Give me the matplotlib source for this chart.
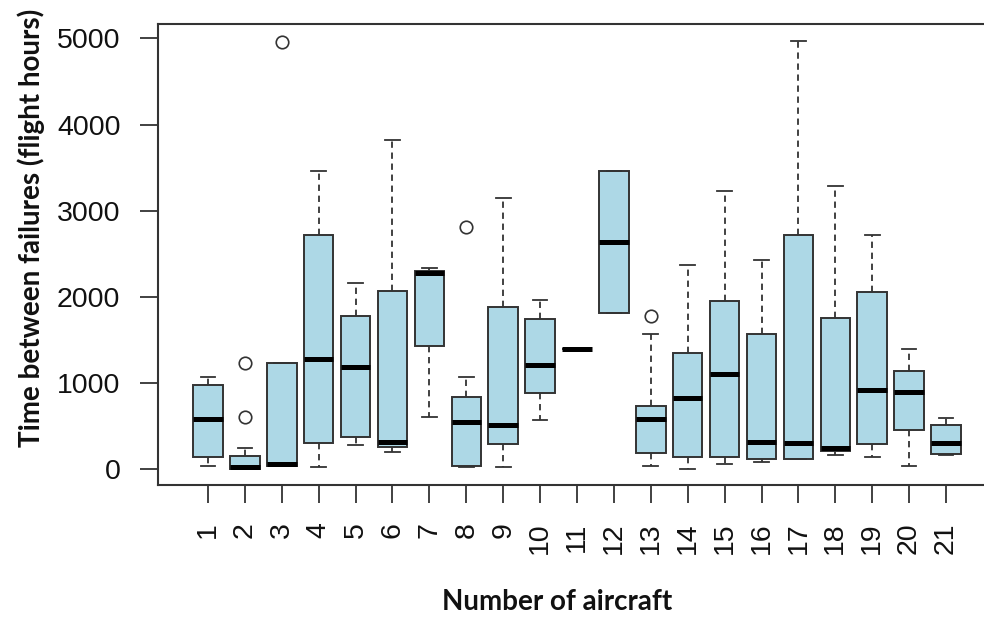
import matplotlib
matplotlib.use("Agg")
import matplotlib.pyplot as plt

# one entry per aircraft, values in flight hours
aircraft = [str(i) for i in range(1, 22)]
whisker_low = [43, 0, 39, 23, 286, 197, 603, 23, 23, 568, 1392, 1810, 43, 4, 58, 89, 124, 162, 147, 39, 166]
q1 = [147, 5, 39, 302, 375, 255, 1427, 39, 298, 882, 1392, 1810, 193, 147, 147, 124, 124, 213, 298, 456, 178]
median = [584, 30, 58, 1284, 1183, 321, 2274, 545, 510, 1214, 1392, 2641, 584, 828, 1110, 321, 302, 244, 916, 901, 302]
q3 = [978, 159, 1230, 2722, 1779, 2073, 2305, 843, 1883, 1740, 1392, 3461, 739, 1353, 1949, 1566, 2722, 1760, 2057, 1145, 514]
whisker_high = [1067, 247, 1230, 3461, 2162, 3817, 2336, 1071, 3144, 1968, 1392, 3461, 1566, 2370, 3233, 2428, 4973, 3291, 2722, 1392, 599]
outliers = [[], [1230, 603], [4954], [], [], [], [], [2815], [], [], [],
            [], [1779], [], [], [], [], [], [], [], []]

stats = []
for i, name in enumerate(aircraft):
    stats.append(dict(label=name, whislo=whisker_low[i], q1=q1[i], med=median[i],
                      q3=q3[i], whishi=whisker_high[i], fliers=outliers[i]))

edge = "#333333"
fig = plt.figure(figsize=(9.84, 6.21), dpi=100)
ax = fig.add_axes([158 / 984, 1 - 485 / 621, 838 / 984, 461 / 621])

ax.bxp(stats, positions=range(1, 22), widths=0.8, patch_artist=True,
       boxprops=dict(facecolor="#ADD8E6", edgecolor=edge, linewidth=1.4),
       medianprops=dict(color="black", linewidth=3.6, solid_capstyle="butt"),
       whiskerprops=dict(color=edge, linewidth=1.3, linestyle=(0, (3.5, 2.6))),
       capprops=dict(color=edge, linewidth=1.3), capwidths=0.4,
       flierprops=dict(marker="o", markersize=9, markerfacecolor="white",
                       markeredgecolor=edge, markeredgewidth=1.2))

ax.set_xlim(-0.355, 22.355)
ax.set_ylim(-182, 5166)
ax.set_yticks([0, 1000, 2000, 3000, 4000, 5000])
ax.set_yticklabels(["0", "1000", "2000", "3000", "4000", "5000"],
                   family="Liberation Sans", fontsize=20.5, color="#111111")
ax.set_xticks(range(1, 22))
ax.set_xticklabels(aircraft, rotation=90, family="Liberation Sans",
                   fontsize=20.5, color="#111111")
ax.tick_params(axis="both", length=13, width=1.3, color=edge, pad=14)

for s in ax.spines.values():
    s.set_color(edge)
    s.set_linewidth(1.5)

fig.text(31 / 984, 1 - 228 / 621, "Time between failures (flight hours)",
         rotation=90, ha="center", va="center", family="Lato",
         fontweight="bold", fontsize=20, color="#111111")
fig.text(557 / 984, 1 - 602 / 621, "Number of aircraft", ha="center",
         va="center", family="Lato", fontweight="bold", fontsize=20,
         color="#111111")

fig.savefig("out.png", dpi=100)
